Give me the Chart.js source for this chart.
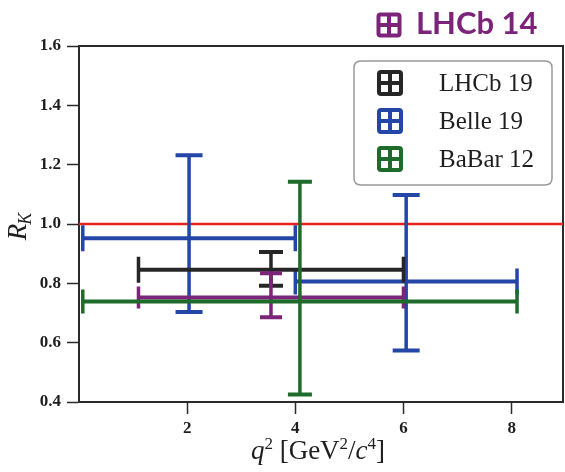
<!DOCTYPE html>
<html>
<head>
<meta charset="utf-8">
<script src="https://cdn.jsdelivr.net/npm/chart.js@4.4.1/dist/chart.umd.min.js"></script>
<style>
  html, body { margin: 0; padding: 0; background: #ffffff; }
  #wrap { width: 565px; height: 472px; }
</style>
</head>
<body>
<div id="wrap"><canvas id="c" width="565" height="472"></canvas></div>
<script>
// ---- data ----
const seriesNames = ['LHCb 19', 'Belle 19', 'BaBar 12', 'LHCb 14'];
const xAxisRange = [0, 8.95];
const yAxisRange = [0.4, 1.6];
const xTickValues = [2, 4, 6, 8];
const yTickValues = [0.4, 0.6, 0.8, 1.0, 1.2, 1.4, 1.6];
const referenceLineY = [1.0];

const lhcb19XLow  = [1.1];
const lhcb19XHigh = [6.0];
const lhcb19Y     = [0.846];
const lhcb19YLow  = [0.792];
const lhcb19YHigh = [0.906];

const belle19XLow  = [0.07, 4.0];
const belle19XHigh = [4.0, 8.1];
const belle19Y     = [0.952, 0.806];
const belle19YLow  = [0.703, 0.574];
const belle19YHigh = [1.232, 1.098];

const babar12XLow  = [0.07];
const babar12XHigh = [8.1];
const babar12Y     = [0.739];
const babar12YLow  = [0.425];
const babar12YHigh = [1.142];

const lhcb14XLow  = [1.1];
const lhcb14XHigh = [6.0];
const lhcb14Y     = [0.752];
const lhcb14YLow  = [0.686];
const lhcb14YHigh = [0.834];

const colBlack = '#262626', colBlue = '#2446a6', colGreen = '#1f6b2b', colPurple = '#7b247a', colRed = '#e8231f';

function buildPoints(xl, xh, y, yl, yh) {
  return y.map((v, i) => ({ x: (xl[i] + xh[i]) / 2, y: v, xMin: xl[i], xMax: xh[i], yMin: yl[i], yMax: yh[i] }));
}

const serifFont = "'Liberation Serif', 'DejaVu Serif', serif";

// ---- plugins ----
const errorBarPlugin = {
  id: 'errorBars',
  afterDatasetsDraw(chart) {
    const { ctx } = chart;
    const xs = chart.scales.x, ys = chart.scales.y;
    chart.data.datasets.forEach(ds => {
      if (!ds.errorBars) return;
      ctx.save();
      ctx.strokeStyle = ds.borderColor;
      ctx.lineCap = 'butt';
      ds.data.forEach(p => {
        const x0 = xs.getPixelForValue(p.xMin), x1 = xs.getPixelForValue(p.xMax);
        const xc = xs.getPixelForValue(p.x);
        const yc = ys.getPixelForValue(p.y);
        const y0 = ys.getPixelForValue(p.yMin), y1 = ys.getPixelForValue(p.yMax);
        const ch = ds.capH / 2, cw = ds.capW / 2;
        ctx.lineWidth = ds.hWidth;
        ctx.beginPath();
        ctx.moveTo(x0, yc); ctx.lineTo(x1, yc);
        ctx.stroke();
        ctx.lineWidth = ds.vWidth;
        ctx.beginPath();
        ctx.moveTo(x0, yc - ch); ctx.lineTo(x0, yc + ch);
        ctx.moveTo(x1, yc - ch); ctx.lineTo(x1, yc + ch);
        ctx.moveTo(xc, y0); ctx.lineTo(xc, y1);
        ctx.stroke();
        ctx.lineWidth = ds.hWidth;
        ctx.beginPath();
        ctx.moveTo(xc - cw, y0); ctx.lineTo(xc + cw, y0);
        ctx.moveTo(xc - cw, y1); ctx.lineTo(xc + cw, y1);
        ctx.stroke();
      });
      ctx.restore();
    });
  }
};

function roundRect(ctx, x, y, w, h, r) {
  ctx.beginPath();
  ctx.moveTo(x + r, y);
  ctx.lineTo(x + w - r, y);
  ctx.quadraticCurveTo(x + w, y, x + w, y + r);
  ctx.lineTo(x + w, y + h - r);
  ctx.quadraticCurveTo(x + w, y + h, x + w - r, y + h);
  ctx.lineTo(x + r, y + h);
  ctx.quadraticCurveTo(x, y + h, x, y + h - r);
  ctx.lineTo(x, y + r);
  ctx.quadraticCurveTo(x, y, x + r, y);
  ctx.closePath();
}

function drawGridIcon(ctx, cx, cy, size, color) {
  const x0 = cx - size / 2, y0 = cy - size / 2;
  ctx.fillStyle = color;
  roundRect(ctx, x0, y0, size, size, 4);
  ctx.fill();
  const b = 4, t = 4;
  const s = (size - 2 * b - t) / 2;
  ctx.fillStyle = '#ffffff';
  ctx.fillRect(x0 + b, y0 + b, s, s);
  ctx.fillRect(x0 + b + s + t, y0 + b, s, s);
  ctx.fillRect(x0 + b, y0 + b + s + t, s, s);
  ctx.fillRect(x0 + b + s + t, y0 + b + s + t, s, s);
}

const decorPlugin = {
  id: 'decor',
  beforeDatasetsDraw(chart) {
    const { ctx, chartArea: a } = chart;
    ctx.save();
    ctx.strokeStyle = '#2a2a2a';
    ctx.lineWidth = 2;
    ctx.strokeRect(a.left, a.top, a.right - a.left, a.bottom - a.top);
    ctx.restore();
  },
  afterDraw(chart) {
    const { ctx } = chart;
    ctx.save();
    // legend box
    ctx.fillStyle = '#ffffff';
    roundRect(ctx, 354, 61, 198, 124, 7);
    ctx.fill();
    ctx.strokeStyle = '#9a9a9a';
    ctx.lineWidth = 1.5;
    ctx.stroke();
    const legendColors = [colBlack, colBlue, colGreen];
    const legendY = [83, 121, 159];
    ctx.font = '25px ' + serifFont;
    ctx.textBaseline = 'middle';
    ctx.textAlign = 'left';
    for (let i = 0; i < 3; i++) {
      drawGridIcon(ctx, 390, legendY[i], 26, legendColors[i]);
      ctx.fillStyle = '#1e1e1e';
      ctx.fillText(seriesNames[i], 439, legendY[i] + 1);
    }
    // handwritten-style LHCb 14 label
    drawGridIcon(ctx, 389, 25, 25, colPurple);
    ctx.fillStyle = colPurple;
    ctx.font = "bold 31px Lato, 'Open Sans', sans-serif";
    ctx.textBaseline = 'middle';
    ctx.fillText(seriesNames[3], 416, 24);

    // x axis title
    const parts = [
      { t: 'q', f: 'italic 27px ' + serifFont, dy: 0 },
      { t: '2', f: '17px ' + serifFont, dy: -10 },
      { t: ' [GeV', f: '27px ' + serifFont, dy: 0 },
      { t: '2', f: '17px ' + serifFont, dy: -10 },
      { t: '/', f: '27px ' + serifFont, dy: 0 },
      { t: 'c', f: 'italic 27px ' + serifFont, dy: 0 },
      { t: '4', f: '17px ' + serifFont, dy: -10 },
      { t: ']', f: '27px ' + serifFont, dy: 0 }
    ];
    let total = 0;
    parts.forEach(p => { ctx.font = p.f; p.w = ctx.measureText(p.t).width; total += p.w; });
    let px = 318 - total / 2;
    ctx.fillStyle = '#1e1e1e';
    ctx.textBaseline = 'alphabetic';
    parts.forEach(p => { ctx.font = p.f; ctx.fillText(p.t, px, 459 + p.dy); px += p.w; });

    // y axis title R_K
    ctx.translate(26, 226);
    ctx.rotate(-Math.PI / 2);
    ctx.font = 'italic 27px ' + serifFont;
    const wR = ctx.measureText('R').width;
    ctx.font = 'italic 18px ' + serifFont;
    const wK = ctx.measureText('K').width;
    let sx = -(wR + wK) / 2;
    ctx.font = 'italic 27px ' + serifFont;
    ctx.fillText('R', sx, 0);
    ctx.font = 'italic 18px ' + serifFont;
    ctx.fillText('K', sx + wR - 1, 5);
    ctx.restore();
  }
};

const tickFont = { family: serifFont, size: 17, weight: 'bold' };

new Chart(document.getElementById('c'), {
  type: 'scatter',
  data: {
    datasets: [
      {
        label: 'SM',
        data: [{ x: xAxisRange[0], y: referenceLineY[0] }, { x: xAxisRange[1], y: referenceLineY[0] }],
        showLine: true, borderColor: colRed, borderWidth: 2.5, pointRadius: 0
      },
      {
        label: seriesNames[1], errorBars: true,
        data: buildPoints(belle19XLow, belle19XHigh, belle19Y, belle19YLow, belle19YHigh),
        borderColor: colBlue, backgroundColor: colBlue, pointRadius: 0,
        hWidth: 4, vWidth: 3.5, capW: 27, capH: 26
      },
      {
        label: seriesNames[0], errorBars: true,
        data: buildPoints(lhcb19XLow, lhcb19XHigh, lhcb19Y, lhcb19YLow, lhcb19YHigh),
        borderColor: colBlack, backgroundColor: colBlack, pointRadius: 0,
        hWidth: 4, vWidth: 3.5, capW: 24, capH: 26
      },
      {
        label: seriesNames[3], errorBars: true,
        data: buildPoints(lhcb14XLow, lhcb14XHigh, lhcb14Y, lhcb14YLow, lhcb14YHigh),
        borderColor: colPurple, backgroundColor: colPurple, pointRadius: 0,
        hWidth: 4, vWidth: 3.5, capW: 22, capH: 22
      },
      {
        label: seriesNames[2], errorBars: true,
        data: buildPoints(babar12XLow, babar12XHigh, babar12Y, babar12YLow, babar12YHigh),
        borderColor: colGreen, backgroundColor: colGreen, pointRadius: 0,
        hWidth: 4, vWidth: 3.5, capW: 24, capH: 24
      }
    ]
  },
  options: {
    responsive: false,
    animation: false,
    layout: { padding: { top: 46, right: 2, left: 0, bottom: 0 } },
    plugins: { legend: { display: false }, tooltip: { enabled: false }, title: { display: false } },
    scales: {
      x: {
        type: 'linear', min: xAxisRange[0], max: xAxisRange[1],
        afterBuildTicks: s => { s.ticks = xTickValues.map(v => ({ value: v })); },
        ticks: { font: tickFont, color: '#1e1e1e', padding: 4, callback: v => String(v) },
        grid: { drawOnChartArea: false, tickLength: 12, tickColor: '#2a2a2a', tickWidth: 1.5 },
        border: { color: '#2a2a2a', width: 2 },
        afterFit: s => { s.height = 70; }
      },
      y: {
        type: 'linear', min: yAxisRange[0], max: yAxisRange[1],
        afterBuildTicks: s => { s.ticks = yTickValues.map(v => ({ value: v })); },
        ticks: { font: tickFont, color: '#1e1e1e', padding: 6, callback: v => Number(v).toFixed(1) },
        grid: { drawOnChartArea: false, tickLength: 12, tickColor: '#2a2a2a', tickWidth: 1.5 },
        border: { color: '#2a2a2a', width: 2 },
        afterFit: s => { s.width = 79; }
      }
    }
  },
  plugins: [decorPlugin, errorBarPlugin]
});
</script>
</body>
</html>
